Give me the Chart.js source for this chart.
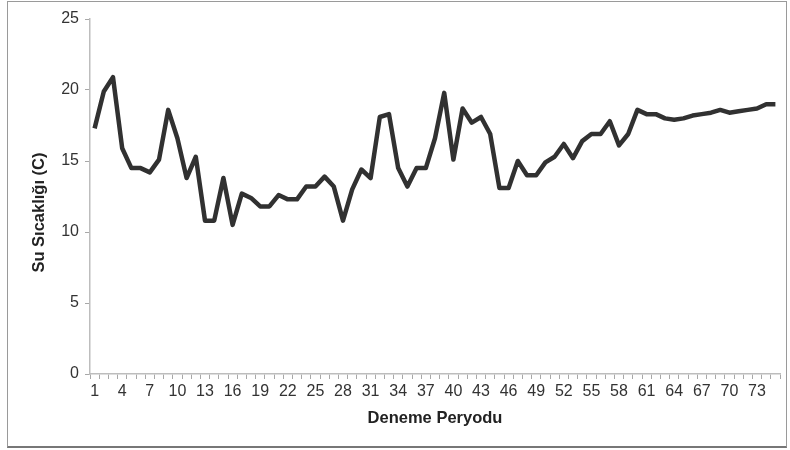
<!DOCTYPE html>
<html>
<head>
<meta charset="utf-8">
<script src="https://cdn.jsdelivr.net/npm/chart.js@4"></script>
<style>
  html, body { margin: 0; padding: 0; background: #fff; }
  #wrap { position: relative; width: 790px; height: 450px; }
  #frame {
    position: absolute; left: 7px; top: 1px; width: 778px; height: 444px;
    border: 1px solid #9a9a9a; border-bottom: 2px solid #777; pointer-events: none;
  }
  canvas { position: absolute; left: 0; top: 0; }
</style>
</head>
<body>
<div id="wrap">
  <canvas id="chart" width="790" height="450"></canvas>
  <div id="frame"></div>
</div>
<script>
// --- Data ---
const periods = [1, 2, 3, 4, 5, 6, 7, 8, 9, 10, 11, 12, 13, 14, 15, 16, 17, 18, 19, 20,
  21, 22, 23, 24, 25, 26, 27, 28, 29, 30, 31, 32, 33, 34, 35, 36, 37, 38, 39, 40,
  41, 42, 43, 44, 45, 46, 47, 48, 49, 50, 51, 52, 53, 54, 55, 56, 57, 58, 59, 60,
  61, 62, 63, 64, 65, 66, 67, 68, 69, 70, 71, 72, 73, 74, 75];

const waterTemp = [17.3, 19.9, 20.9, 15.9, 14.5, 14.5, 14.2, 15.1, 18.6, 16.6,
  13.8, 15.3, 10.8, 10.8, 13.8, 10.5, 12.7, 12.4, 11.8, 11.8,
  12.6, 12.3, 12.3, 13.2, 13.2, 13.9, 13.2, 10.8, 13.0, 14.4,
  13.8, 18.1, 18.3, 14.5, 13.2, 14.5, 14.5, 16.6, 19.8, 15.1,
  18.7, 17.7, 18.1, 16.9, 13.1, 13.1, 15.0, 14.0, 14.0, 14.9,
  15.3, 16.2, 15.2, 16.4, 16.9, 16.9, 17.8, 16.1, 16.9, 18.6,
  18.3, 18.3, 18.0, 17.9, 18.0, 18.2, 18.3, 18.4, 18.6, 18.4,
  18.5, 18.6, 18.7, 19.0, 19.0];

const yTicks = [0, 5, 10, 15, 20, 25];

// --- Chart ---
const ctx = document.getElementById('chart').getContext('2d');
new Chart(ctx, {
    type: 'line',
    data: {
        labels: periods,
        datasets: [{
            data: waterTemp,
            borderColor: '#313131',
            borderWidth: 4.5,
            borderJoinStyle: 'round',
            pointRadius: 0,
            tension: 0,
            fill: false
        }]
    },
    options: {
        responsive: false,
        animation: false,
        layout: { padding: { top: 19, right: 10, bottom: 0, left: 0 } },
        plugins: {
            legend: { display: false },
            tooltip: { enabled: false }
        },
        scales: {
            x: {
                offset: true,
                afterFit: (scale) => { scale.height = 76; },
                grid: {
                    offset: true,
                    drawOnChartArea: false,
                    drawTicks: true,
                    tickLength: 5,
                    color: '#a8a8a8'
                },
                border: { color: '#bdbdbd', width: 1.5 },
                ticks: {
                    autoSkip: false,
                    maxRotation: 0,
                    minRotation: 0,
                    padding: 3,
                    color: '#333',
                    font: { family: 'Liberation Sans, Arial, sans-serif', size: 16 },
                    callback: function(value, index) {
                        return index % 3 === 0 ? this.getLabelForValue(value) : '';
                    }
                },
                title: {
                    display: true,
                    text: 'Deneme Peryodu',
                    color: '#222',
                    font: { family: 'Liberation Sans, Arial, sans-serif', size: 16.5, weight: 'bold' },
                    padding: { top: 0, bottom: 22 }
                }
            },
            y: {
                min: 0,
                max: 25,
                afterFit: (scale) => { scale.width = 90; },
                afterBuildTicks: (scale) => { scale.ticks = yTicks.map(v => ({ value: v })); },
                grid: {
                    drawOnChartArea: false,
                    drawTicks: true,
                    tickLength: 5,
                    color: '#a8a8a8'
                },
                border: { color: '#bdbdbd', width: 1.5 },
                ticks: {
                    padding: 6,
                    color: '#333',
                    font: { family: 'Liberation Sans, Arial, sans-serif', size: 16 }
                },
                title: {
                    display: true,
                    // trailing spaces push the rotated title a little lower, as in the original
                    text: 'Su Sıcaklığı (C)       ',
                    color: '#222',
                    font: { family: 'Liberation Sans, Arial, sans-serif', size: 16.5, weight: 'bold' },
                    padding: { top: 30, bottom: 0 }
                }
            }
        }
    }
});
</script>
</body>
</html>
